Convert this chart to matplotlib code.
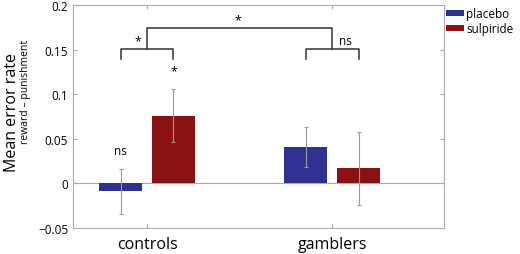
import matplotlib
matplotlib.use("Agg")
import matplotlib.pyplot as plt
import numpy as np

# ---------------------------------------------------------------------------
# Data
# ---------------------------------------------------------------------------
groups = ["controls", "gamblers"]
conditions = ["placebo", "sulpiride"]
placebo_mean = [-0.009, 0.041]
placebo_err = [0.0255, 0.0225]
sulpiride_mean = [0.076, 0.017]
sulpiride_err = [0.030, 0.041]
yticks = [-0.05, 0, 0.05, 0.1, 0.15, 0.2]
ytick_labels = ["\u22120.05", "0", "0.05", "0.1", "0.15", "0.2"]

BLUE = "#2e3192"
RED = "#8b1212"
GREY = "#999999"

plt.rcParams["font.family"] = ["Open Sans", "DejaVu Sans"]

fig = plt.figure(figsize=(5.2, 2.55), dpi=100)
ax = fig.add_axes([73 / 520, 1 - 229 / 255, (444 - 73) / 520, (229 - 6) / 255])

x = np.array([1.0, 2.0])
off = 0.143
width = 0.23

ax.bar(x - off, placebo_mean, width, color=BLUE, edgecolor="none",
       label=conditions[0], zorder=2)
ax.bar(x + off, sulpiride_mean, width, color=RED, edgecolor="none",
       label=conditions[1], zorder=2)
ax.errorbar(x - off, placebo_mean, yerr=placebo_err, fmt="none",
            ecolor=GREY, elinewidth=0.8, capsize=1.5, capthick=0.8, zorder=3)
ax.errorbar(x + off, sulpiride_mean, yerr=sulpiride_err, fmt="none",
            ecolor=GREY, elinewidth=0.8, capsize=1.5, capthick=0.8, zorder=3)

ax.axhline(0, color="#aaaaaa", linewidth=0.8, zorder=1)

# significance brackets
lw = 1.1
bc = "#333333"
for g in x:
    ax.plot([g - off, g - off, g + off, g + off], [0.139, 0.151, 0.151, 0.139],
            color=bc, linewidth=lw, zorder=4)
ax.plot([x[0], x[0], x[1], x[1]], [0.151, 0.174, 0.174, 0.151],
        color=bc, linewidth=lw, zorder=4)

ax.text(x[0] - 0.05, 0.153, "*", ha="center", va="bottom", fontsize=9)
ax.text(x[0] + 0.49, 0.176, "*", ha="center", va="bottom", fontsize=9)
ax.text(x[1] + 0.07, 0.153, "ns", ha="center", va="bottom", fontsize=8.5)
ax.text(x[0] + off, 0.119, "*", ha="center", va="bottom", fontsize=9)
ax.text(x[0] - off, 0.030, "ns", ha="center", va="bottom", fontsize=8.5)

ax.set_xlim(0.6, 2.605)
ax.set_ylim(-0.05, 0.2)
ax.set_xticks(x)
ax.set_xticklabels(groups, fontsize=11.5)
ax.set_yticks(yticks)
ax.set_yticklabels(ytick_labels, fontsize=8.5)
ax.tick_params(axis="both", direction="in", length=3, color="#aaaaaa",
               top=True, right=True, labelcolor="black")
ax.tick_params(axis="x", pad=6)
for s in ax.spines.values():
    s.set_color("#aaaaaa")
    s.set_linewidth(0.8)

fig.text(12 / 520, 1 - 112 / 255, "Mean error rate", rotation=90,
         ha="center", va="center", fontsize=11.5)
fig.text(26 / 520, 1 - 92 / 255, "reward \u2013 punishment", rotation=90,
         ha="center", va="center", fontsize=7.5)

fig.legend(loc="upper left", bbox_to_anchor=(446 / 520, 1 - 8 / 255),
           frameon=False, fontsize=8.5, handlelength=1.5, handleheight=0.45,
           handletextpad=0.2, labelspacing=0.2, borderaxespad=0, borderpad=0)

fig.savefig("out.png", dpi=100)
